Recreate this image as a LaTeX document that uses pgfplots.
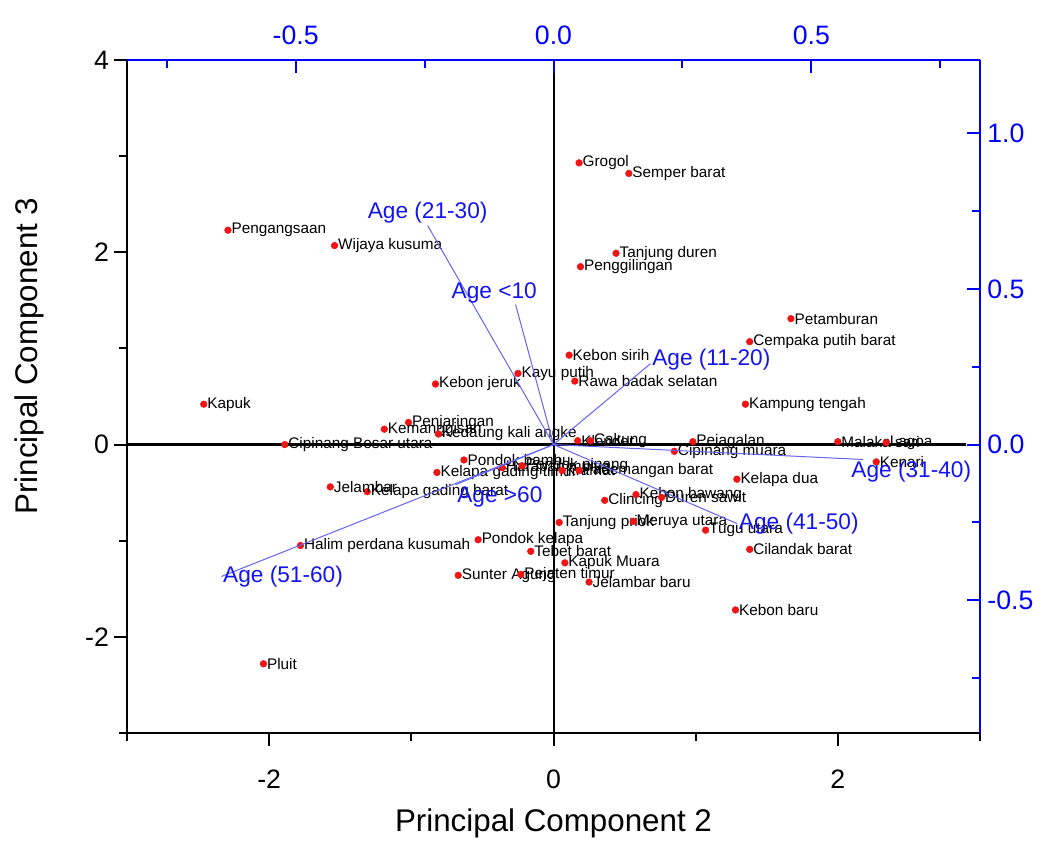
\documentclass[border=0pt]{standalone}
\usepackage{fontspec}
\setmainfont{Liberation Sans}
\usepackage{pgfplots}
\pgfplotsset{compat=1.18}
\definecolor{ptred}{RGB}{240,20,20}
\definecolor{loadblue}{RGB}{20,20,240}
\definecolor{arrowblue}{RGB}{100,100,240}

\begin{document}
\begin{tikzpicture}
\begin{axis}[
    name=main,
    scale only axis, width=639.75pt, height=504.75pt,
    xmin=-3, xmax=3, ymin=-3, ymax=4,
    axis x line*=bottom, axis y line*=left,
    axis line style={line width=1.5pt, -},
    xtick={-2,0,2}, minor xtick={-3,-1,1,3},
    ytick={-2,0,2,4}, minor ytick={-3,-1,1,3},
    tick align=outside, major tick length=10pt, minor tick length=6pt,
    tick style={black, line width=1.5pt},
    ticklabel style={font=\fontsize{20}{20}\selectfont},
    xticklabel style={yshift=-14pt},
    /pgf/number format/assume math mode=true,
    xlabel={Principal Component 2}, ylabel={Principal Component 3},
    label style={font=\fontsize{23.5}{24}\selectfont},
    xlabel style={at={(axis description cs:0.5,-0.135)}, anchor=center},
    ylabel style={at={(axis description cs:-0.114,0.56)}, anchor=center},
    clip=false,
]
\draw[black, line width=1.5pt] (axis cs:0,-3) -- (axis cs:0,4);
\draw[black, line width=2pt] (axis cs:-3,0) -- (axis cs:2.9,0);

\addplot[only marks, mark=*, mark size=2.5pt,
    mark options={fill=ptred, draw=ptred},
    nodes near coords, point meta=explicit symbolic,
    every node near coord/.style={anchor=west, text=black, inner sep=0.5pt,
        xshift=2pt, font=\fontsize{11.5}{11.5}\selectfont}]
table[x=x, y=y, meta=name, col sep=comma, row sep=\\] {
x,y,name\\
0.18,2.93,Grogol\\
0.53,2.82,Semper barat\\
-2.29,2.23,Pengangsaan\\
-1.54,2.07,Wijaya kusuma\\
0.44,1.99,Tanjung duren\\
0.19,1.85,Penggilingan\\
1.67,1.31,Petamburan\\
1.38,1.07,Cempaka putih barat\\
0.11,0.93,Kebon sirih\\
-0.25,0.74,Kayu putih\\
0.15,0.66,Rawa badak selatan\\
-0.83,0.63,Kebon jeruk\\
1.35,0.42,Kampung tengah\\
-2.46,0.42,Kapuk\\
-1.02,0.23,Penjaringan\\
-1.19,0.16,Kemanggisan\\
-0.81,0.11,Kedaung kali angke\\
-1.89,0.00,Cipinang Besar utara\\
0.17,0.04,Klender\\
0.26,0.04,Cakung\\
0.98,0.03,Pejagalan\\
0.85,-0.07,Cipinang muara\\
2.00,0.03,Malaka sari\\
2.34,0.02,Lagoa\\
2.27,-0.18,Kenari\\
-0.63,-0.16,Pondok bambu\\
-0.82,-0.29,Kelapa gading timur\\
-0.36,-0.24,Harapan mulya\\
-0.22,-0.22,Pondok pinang\\
0.06,-0.27,Kramat\\
0.18,-0.27,Pademangan barat\\
-1.31,-0.49,Kelapa gading barat\\
-1.57,-0.44,Jelambar\\
-1.78,-1.05,Halim perdana kusumah\\
-0.53,-0.99,Pondok kelapa\\
-0.16,-1.11,Tebet barat\\
0.08,-1.23,Kapuk Muara\\
-0.67,-1.36,Sunter Agung\\
-0.23,-1.35,Pejaten timur\\
0.25,-1.43,Jelambar baru\\
0.04,-0.81,Tanjung priok\\
0.56,-0.80,Meruya utara\\
0.36,-0.58,Clincing\\
0.58,-0.52,Kebon bawang\\
0.76,-0.55,Duren sawit\\
1.07,-0.89,Tugu utara\\
1.29,-0.36,Kelapa dua\\
1.38,-1.09,Cilandak barat\\
1.28,-1.72,Kebon baru\\
-2.04,-2.28,Pluit\\
};
\end{axis}

\begin{axis}[
    scale only axis, width=639.75pt, height=504.75pt,
    xmin=-0.827, xmax=0.827, ymin=-0.927, ymax=1.236,
    axis x line*=top, axis y line*=right,
    axis line style={blue, line width=1.5pt, -},
    xtick={-0.5,0,0.5}, xticklabels={-0.5,0.0,0.5},
    minor xtick={-0.75,-0.25,0.25,0.75},
    ytick={-0.5,0,0.5,1}, yticklabels={-0.5,0.0,0.5,1.0},
    minor ytick={-0.75,-0.25,0.25,0.75},
    tick align=inside, major tick length=10pt, minor tick length=6pt,
    tick style={blue, line width=1.5pt},
    ticklabel style={text=blue, font=\fontsize{20}{20}\selectfont},
    xticklabel style={yshift=8pt},
    yticklabel style={xshift=2pt},
    clip=false,
    loading/.style={arrowblue, line width=0.75pt, no marks},
]
\tikzset{agelab/.style={text=loadblue, font=\fontsize{17}{17}\selectfont, inner sep=1pt}}
\addplot[loading] coordinates {(0,0) (-0.244,0.704)} node[pos=1, anchor=south, agelab] {Age (21-30)};
\addplot[loading] coordinates {(0,0) (-0.0735,0.450)} node[pos=1, anchor=south, xshift=-16pt, agelab] {Age <10};
\addplot[loading] coordinates {(0,0) (0.188,0.260)} node[pos=1, anchor=west, yshift=3pt, agelab] {Age (11-20)};
\addplot[loading] coordinates {(0,0) (0.600,-0.048)} node[pos=1, anchor=north west, xshift=-10pt, agelab] {Age (31-40)};
\addplot[loading] coordinates {(0,0) (0.356,-0.254)} node[pos=1, anchor=west, agelab] {Age (41-50)};
\addplot[loading] coordinates {(0,0) (-0.644,-0.424)} node[pos=1, anchor=west, agelab] {Age (51-60)};
\addplot[loading] coordinates {(0,0) (-0.190,-0.129)} node[pos=1, anchor=north west, agelab] {Age >60};
\end{axis}
\path (main.south west) ++(-95.25pt,-78.75pt) coordinate (bl);
\path (main.north east) ++(49.5pt,45pt) coordinate (tr);
\path[use as bounding box] (bl) rectangle (tr);
\end{tikzpicture}
\end{document}
